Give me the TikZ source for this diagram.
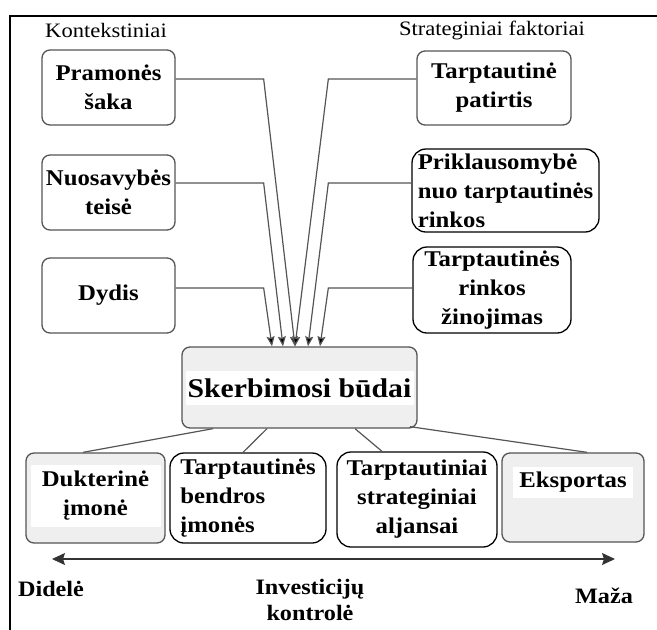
\documentclass[tikz,border=0pt]{standalone}
\usepackage{fontspec}
\setmainfont{Liberation Serif}[FakeStretch=1.1]
\usetikzlibrary{arrows.meta}
\definecolor{edge}{HTML}{555555}
\definecolor{panel}{HTML}{EFEFEF}
\begin{document}
\begin{tikzpicture}[x=1pt,y=-1pt,
  txt/.style={font=\fontsize{22.5}{29}\selectfont\bfseries, align=center},
  box/.style={txt, draw=edge, line width=1.3pt, rounded corners=8pt, fill=white, inner sep=2pt},
  wavybox/.style={txt, draw=black, line width=1.3pt, rounded corners=14pt, fill=white, inner sep=2pt},
  graybox/.style={draw=edge, line width=1.3pt, rounded corners=8pt, fill=panel, inner sep=0pt},
  band/.style={fill=white, inner sep=0pt},
  heading/.style={font=\fontsize{20.5}{24}\selectfont},
  feed/.style={draw=edge, line width=1.2pt, -{Stealth[length=10pt,width=8pt,inset=1.5pt,fill=black]}},
  link/.style={draw=edge, line width=1.2pt},
  axis/.style={draw=black!80, line width=1.4pt, {Stealth[length=13pt,width=12pt,inset=2pt]}-{Stealth[length=13pt,width=12pt,inset=2pt]}},
  axlabel/.style={font=\fontsize{22}{26}\selectfont\bfseries, align=center}
]
\useasboundingbox (0,0) rectangle (657,630);

% outer frame (left and top sides)
\draw[line width=2pt] (10,630) -- (10,16) -- (657,16);

% group headings
\node[heading] (hctx) at (106,30) {Kontekstiniai};
\node[heading] (hstr) at (492,30) {Strateginiai faktoriai};

% contextual factors
\node[box, minimum width=133, minimum height=75] (pram) at (108.5,87.5) {\raisebox{-4pt}{Pramonės}\\\raisebox{-4pt}{šaka}};
\node[box, minimum width=133, minimum height=75] (nuos) at (108.5,192.5) {Nuosavybės\\teisė};
\node[box, minimum width=133, minimum height=75] (dyd)  at (108.5,295.5) {Dydis};

% strategic factors
\node[box, minimum width=154, minimum height=74] (pat) at (494,88) {Tarptautinė\\patirtis};
\node[wavybox, minimum width=187, minimum height=83, align=left] (prik) at (505.5,190.5)
  {\fontsize{22.5}{26}\selectfont Priklausomybė\\nuo tarptautinės\\rinkos};
\node[wavybox, minimum width=158, minimum height=86] (zin) at (492,290)
  {\fontsize{22.5}{26.5}\selectfont Tarptautinės\\rinkos\\žinojimas};

% central node
\node[graybox, minimum width=235, minimum height=81] (skerb) at (299.5,387.5) {};
\node[band, minimum width=228, minimum height=34, font=\fontsize{27}{32}\selectfont\bfseries]
  (skerbt) at (299.5,388) {Skerbimosi būdai};

% entry modes
\node[graybox, minimum width=139, minimum height=90] (duk) at (95.5,498) {};
\node[band, minimum width=130, minimum height=62, txt] (dukt) at (95.5,496) {\fontsize{22.5}{27}\selectfont Dukterinė\\įmonė};
\node[wavybox, minimum width=156, minimum height=90, align=left] (bend) at (248,498)
  {\fontsize{22.5}{30.5}\selectfont Tarptautinės\\bendros\\įmonės};
\node[wavybox, minimum width=160, minimum height=95] (alj) at (417,499.5)
  {\fontsize{22.5}{30.5}\selectfont Tarptautiniai\\strateginiai\\aljansai};
\node[graybox, minimum width=142, minimum height=89] (eks) at (573,497.5) {};
\node[band, minimum width=120, minimum height=31, txt] (ekst) at (573,482.5) {Eksportas};

% factors feeding the entry mode choice
\draw[feed] ([yshift=8.5pt]pram.east) -- ++(88,0) -- ([xshift=-4.5pt]skerb.north);
\draw[feed] ([yshift=9.5pt]nuos.east) -- ++(88,0) -- ([xshift=-16.5pt]skerb.north);
\draw[feed] ([yshift=7.5pt]dyd.east)  -- ++(88,0) -- ([xshift=-27.5pt]skerb.north);
\draw[feed] ([yshift=9pt]pat.west)    -- ++(-88,0) -- ([xshift=-4.5pt]skerb.north);
\draw[feed] ([yshift=7.5pt]prik.west) -- ++(-83,0) -- ([xshift=8.5pt]skerb.north);
\draw[feed] ([yshift=2pt]zin.west)    -- ++(-84,0) -- ([xshift=20.5pt]skerb.north);

% branches to the entry modes
\draw[link] ([xshift=-86.5pt]skerb.south) -- ([xshift=-12.5pt]duk.north);
\draw[link] ([xshift=-32.5pt]skerb.south) -- ([xshift=-5pt]bend.north);
\draw[link] ([xshift=55.5pt]skerb.south)  -- ([xshift=-35pt]alj.north);
\draw[link] ([xshift=110.5pt,yshift=2pt]skerb.south) -- ([xshift=14pt]eks.north);

% investment control axis
\coordinate (axL) at (52,559);
\coordinate (axR) at (615,559);
\draw[axis] (axL) -- (axR);
\node[axlabel] (big)   at (51,589)  {Didelė};
\node[axlabel] (ctrl)  at (310,600) {\fontsize{22}{25}\selectfont Investicijų\\kontrolė};
\node[axlabel] (small) at (604,596) {Maža};
\end{tikzpicture}
\end{document}
